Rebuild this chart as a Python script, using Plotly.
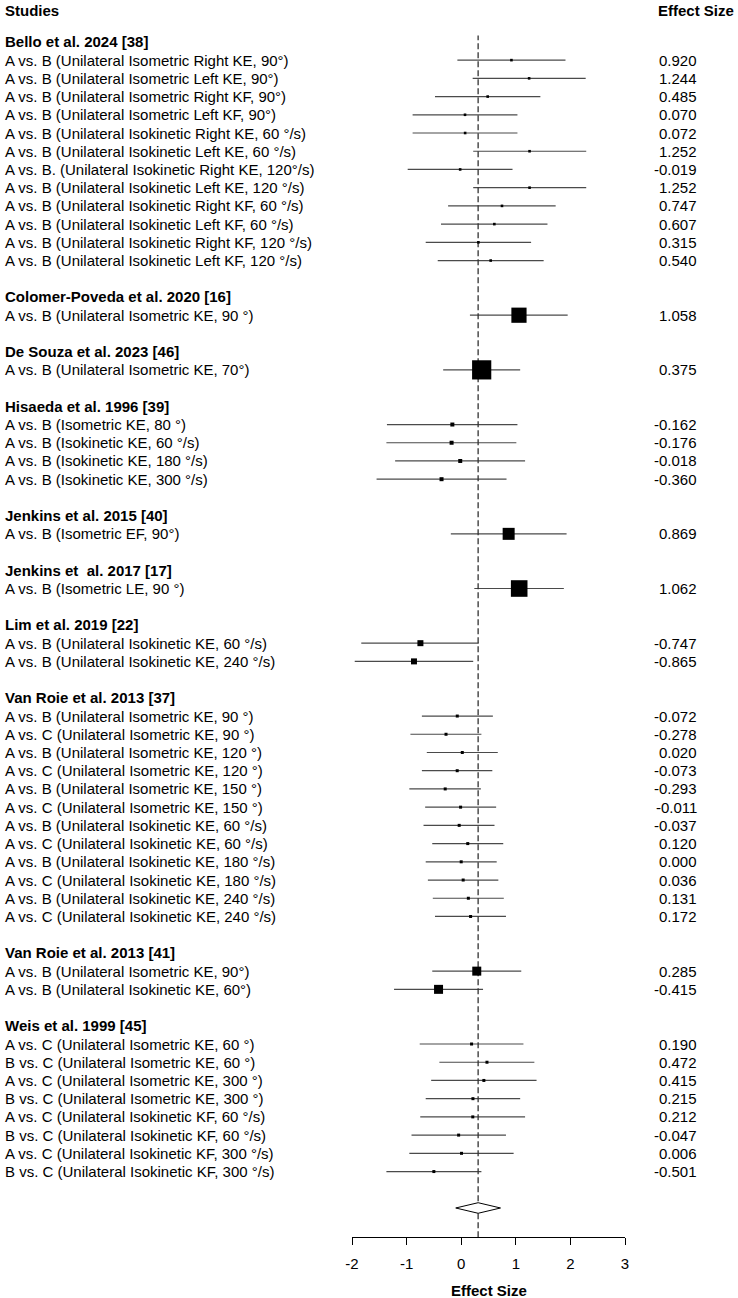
import plotly.graph_objects as go

# ---------------- data ----------------
study_names = [
    "Bello et al. 2024 [38]",
    "Colomer-Poveda et al. 2020 [16]",
    "De Souza et al. 2023 [46]",
    "Hisaeda et al. 1996 [39]",
    "Jenkins et al. 2015 [40]",
    "Jenkins et  al. 2017 [17]",
    "Lim et al. 2019 [22]",
    "Van Roie et al. 2013 [37]",
    "Van Roie et al. 2013 [41]",
    "Weis et al. 1999 [45]",
]
study_counts = [12, 1, 1, 4, 1, 1, 2, 12, 2, 8]

comparison_labels = [
    "A vs. B (Unilateral Isometric Right KE, 90°)",
    "A vs. B (Unilateral Isometric Left KE, 90°)",
    "A vs. B (Unilateral Isometric Right KF, 90°)",
    "A vs. B (Unilateral Isometric Left KF, 90°)",
    "A vs. B (Unilateral Isokinetic Right KE, 60 °/s)",
    "A vs. B (Unilateral Isokinetic Left KE, 60 °/s)",
    "A vs. B. (Unilateral Isokinetic Right KE, 120°/s)",
    "A vs. B (Unilateral Isokinetic Left KE, 120 °/s)",
    "A vs. B (Unilateral Isokinetic Right KF, 60 °/s)",
    "A vs. B (Unilateral Isokinetic Left KF, 60 °/s)",
    "A vs. B (Unilateral Isokinetic Right KF, 120 °/s)",
    "A vs. B (Unilateral Isokinetic Left KF, 120 °/s)",
    "A vs. B (Unilateral Isometric KE, 90 °)",
    "A vs. B (Unilateral Isometric KE, 70°)",
    "A vs. B (Isometric KE, 80 °)",
    "A vs. B (Isokinetic KE, 60 °/s)",
    "A vs. B (Isokinetic KE, 180 °/s)",
    "A vs. B (Isokinetic KE, 300 °/s)",
    "A vs. B (Isometric EF, 90°)",
    "A vs. B (Isometric LE, 90 °)",
    "A vs. B (Unilateral Isokinetic KE, 60 °/s)",
    "A vs. B (Unilateral Isokinetic KE, 240 °/s)",
    "A vs. B (Unilateral Isometric KE, 90 °)",
    "A vs. C (Unilateral Isometric KE, 90 °)",
    "A vs. B (Unilateral Isometric KE, 120 °)",
    "A vs. C (Unilateral Isometric KE, 120 °)",
    "A vs. B (Unilateral Isometric KE, 150 °)",
    "A vs. C (Unilateral Isometric KE, 150 °)",
    "A vs. B (Unilateral Isokinetic KE, 60 °/s)",
    "A vs. C (Unilateral Isokinetic KE, 60 °/s)",
    "A vs. B (Unilateral Isokinetic KE, 180 °/s)",
    "A vs. C (Unilateral Isokinetic KE, 180 °/s)",
    "A vs. B (Unilateral Isokinetic KE, 240 °/s)",
    "A vs. C (Unilateral Isokinetic KE, 240 °/s)",
    "A vs. B (Unilateral Isometric KE, 90°)",
    "A vs. B (Unilateral Isokinetic KE, 60°)",
    "A vs. C (Unilateral Isometric KE, 60 °)",
    "B vs. C (Unilateral Isometric KE, 60 °)",
    "A vs. C (Unilateral Isometric KE, 300 °)",
    "B vs. C (Unilateral Isometric KE, 300 °)",
    "A vs. C (Unilateral Isokinetic KF, 60 °/s)",
    "B vs. C (Unilateral Isokinetic KF, 60 °/s)",
    "A vs. C (Unilateral Isokinetic KF, 300 °/s)",
    "B vs. C (Unilateral Isokinetic KF, 300 °/s)",
]

effect_sizes = [
    0.920, 1.244, 0.485, 0.070, 0.072, 1.252, -0.019, 1.252, 0.747, 0.607, 0.315, 0.540,
    1.058,
    0.375,
    -0.162, -0.176, -0.018, -0.360,
    0.869,
    1.062,
    -0.747, -0.865,
    -0.072, -0.278, 0.020, -0.073, -0.293, -0.011, -0.037, 0.120, 0.000, 0.036, 0.131, 0.172,
    0.285, -0.415,
    0.190, 0.472, 0.415, 0.215, 0.212, -0.047, 0.006, -0.501,
]

ci_lower = [
    -0.07, 0.21, -0.48, -0.89, -0.89, 0.22, -0.98, 0.22, -0.24, -0.37, -0.65, -0.43,
    0.16,
    -0.33,
    -1.36, -1.37, -1.21, -1.55,
    -0.19,
    0.24,
    -1.83, -1.95,
    -0.72, -0.93, -0.63, -0.72, -0.95, -0.66, -0.69, -0.53, -0.65, -0.61, -0.52, -0.48,
    -0.53, -1.23,
    -0.76, -0.40, -0.55, -0.65, -0.75, -0.91, -0.95, -1.37,
]

ci_upper = [
    1.91, 2.28, 1.45, 1.03, 1.03, 2.29, 0.94, 2.29, 1.73, 1.58, 1.28, 1.51,
    1.95,
    1.08,
    1.03, 1.01, 1.17, 0.83,
    1.93,
    1.88,
    0.32, 0.22,
    0.58, 0.37, 0.67, 0.57, 0.36, 0.64, 0.61, 0.77, 0.65, 0.68, 0.78, 0.82,
    1.10, 0.40,
    1.14, 1.34, 1.38, 1.08, 1.17, 0.82, 0.96, 0.37,
]

# relative weights (%) per study (all comparisons in a study share the weight)
study_weights = [1.3, 7.6, 9.6, 2.0, 6.0, 8.3, 3.0, 1.5, 4.5, 1.5]

pooled_estimate = 0.31
pooled_lower = -0.10
pooled_upper = 0.72

x_ticks = [-2, -1, 0, 1, 2, 3]

# ---------------- layout geometry ----------------
W, H = 738, 1298
ML, MR, MT, MB = 352, 113, 0, 61
plot_w = W - ML - MR
plot_h = H - MT - MB

FONT = "Liberation Sans, Arial, sans-serif"
FS = 15

# row positions
rows_header = []
rows_item = []
r = 65
for n in study_counts:
    rows_header.append(r)
    for j in range(n):
        rows_item.append(r - 1 - j)
    r = r - n - 2
diamond_row = 1

weights_per_item = []
for w, n in zip(study_weights, study_counts):
    weights_per_item += [w] * n
marker_sizes = [w * 2.0 for w in weights_per_item]

fig = go.Figure()

# CI lines
cx, cy = [], []
for lo, hi, yy in zip(ci_lower, ci_upper, rows_item):
    cx += [lo, hi, None]
    cy += [yy, yy, None]
fig.add_trace(go.Scatter(x=cx, y=cy, mode="lines",
                         line=dict(color="#4a4a4a", width=1.2),
                         hoverinfo="skip", showlegend=False))

# reference dashed line
fig.add_trace(go.Scatter(x=[pooled_estimate, pooled_estimate], y=[-0.6, 65.35],
                         mode="lines", line=dict(color="#333333", width=1.3, dash="6px,3px"),
                         hoverinfo="skip", showlegend=False))

# squares
fig.add_trace(go.Scatter(x=effect_sizes, y=rows_item, mode="markers",
                         marker=dict(symbol="square", size=marker_sizes, color="black",
                                     opacity=1, line=dict(width=0)),
                         showlegend=False))

# diamond
dh = 0.29
fig.add_trace(go.Scatter(
    x=[pooled_lower, pooled_estimate, pooled_upper, pooled_estimate, pooled_lower],
    y=[diamond_row, diamond_row + dh, diamond_row, diamond_row - dh, diamond_row],
    mode="lines", fill="toself", fillcolor="white",
    line=dict(color="black", width=1), hoverinfo="skip", showlegend=False))

annotations = []
x_left = (2.7 - ML) / plot_w
x_right = (699 - ML) / plot_w
x_hdr_right = (736 - ML) / plot_w


def ann(text, x, y, xanchor, yref="y"):
    return dict(text=text, x=x, y=y, xref="paper", yref=yref,
                xanchor=xanchor, yanchor="middle", showarrow=False,
                font=dict(size=FS, family=FONT, color="black"))


header_row = 66.75
annotations.append(ann("<b>Studies</b>", x_left, header_row, "left"))
annotations.append(ann("<b>Effect Size</b>", x_hdr_right, header_row, "right"))
for name, yy in zip(study_names, rows_header):
    annotations.append(ann("<b>" + name + "</b>", x_left, yy, "left"))
for lab, es, yy in zip(comparison_labels, effect_sizes, rows_item):
    annotations.append(ann(lab, x_left, yy, "left"))
    annotations.append(ann(f"{es:.3f}", x_right, yy, "right"))
annotations.append(ann("<b>Effect Size</b>", 0.5, (plot_h - (1291 - MT)) / plot_h, "center",
                       yref="paper"))

fig.update_layout(
    width=W, height=H,
    margin=dict(l=ML, r=MR, t=MT, b=MB, pad=0),
    paper_bgcolor="white", plot_bgcolor="white",
    annotations=annotations,
    xaxis=dict(range=[-2, 3], tickvals=x_ticks, ticktext=[str(t) for t in x_ticks],
               showgrid=False, zeroline=False, showline=True, linecolor="black", linewidth=1,
               ticks="outside", ticklen=7, tickcolor="black", tickwidth=1,
               tickfont=dict(size=FS, family=FONT, color="black"), ticklabelstandoff=6,
               fixedrange=True),
    yaxis=dict(range=[-0.592, 67.30], visible=False, fixedrange=True),
    font=dict(family=FONT, size=FS, color="black"),
)

fig.write_html("out.html")
